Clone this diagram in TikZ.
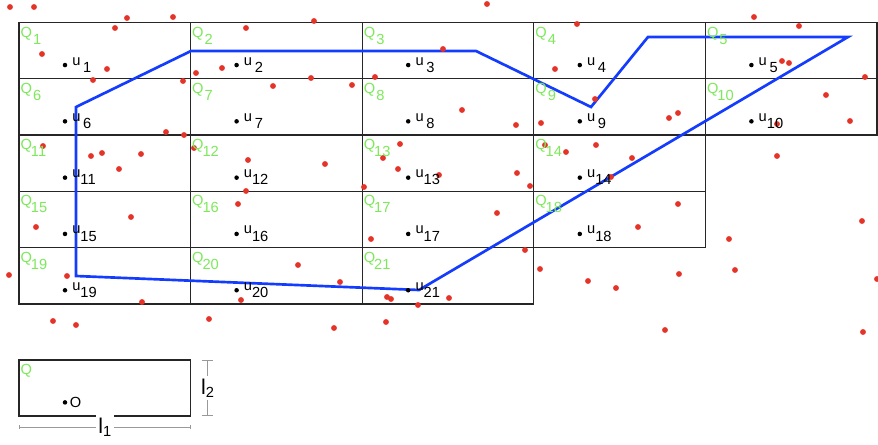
\documentclass[tikz,border=0pt]{standalone}
\usepackage{fontspec}
\setmainfont{Liberation Sans}
\usepackage{xcolor}
\usepackage{tikz}
\usetikzlibrary{arrows.meta}
\definecolor{qgreen}{RGB}{125,232,90}
\definecolor{routeblue}{RGB}{20,60,255}
\definecolor{samplered}{RGB}{228,52,40}
\newcommand\lowsub[1]{\raisebox{-5.3pt}{#1}}
\newcommand\dimsub[1]{\raisebox{-2pt}{\fontsize{11}{13}\selectfont#1}}

\begin{document}
\begin{tikzpicture}[
      x=0.75pt,
      y=-0.75pt,
      cell/.style={
        draw=black!85,
        line width=1pt,
        minimum width=128.7pt,
        minimum height=42.2pt,
        inner sep=0pt,
        outer sep=0pt
      },
      qlabel/.style={text=qgreen, font=\fontsize{11}{13}\selectfont,
        inner xsep=1pt, inner ysep=3pt, anchor=north west},
      udot/.style={circle, fill=black, inner sep=0pt, minimum size=3.4pt},
      ulabel/.style={font=\fontsize{11}{13}\selectfont, inner sep=0pt, anchor=base west},
      route/.style={draw=routeblue, line width=2pt, line join=miter},
      dimline/.style={draw=black!40, line width=0.6pt},
      dimlabel/.style={fill=white, inner sep=2pt, font=\fontsize{16}{18}\selectfont}
    ]
    \useasboundingbox (0,0) rectangle (878,445);

    \foreach \r/\n/\s in {0/5/1, 1/5/6, 2/4/11, 3/4/15, 4/3/19}
      \foreach \c in {1,...,\n} {
        \pgfmathtruncatemacro\i{\s+\c-1}
        \node[cell] (q\i) at ({19+171.6*(\c-0.5)},{22.5+56.3*(\r+0.5)}) {};
      }
    \node[cell] (q0) at (104.8,388) {};

    \coordinate (r1) at (191,51);
    \coordinate (r2) at (476,51);
    \coordinate (r3) at (591,107);
    \coordinate (r4) at (648,37);
    \coordinate (r5) at (848,37);
    \coordinate (r6) at (419,290);
    \coordinate (r7) at (76,276);
    \coordinate (r8) at (76,107);
    \draw[route] (r1) -- (r2) -- (r3) -- (r4) -- (r5) -- (r6) -- (r7) -- (r8) -- cycle;

    \foreach \px/\py in {10/7, 34/7, 127/18, 173/17, 115/28, 246/28, 42/54, 107/69,
        93/80, 183/81, 196/73, 222/68, 273/86, 166/132, 184/135, 43/146, 194/148,
        314/21, 487/4, 443/49, 311/78, 352/85, 375/77, 462/110, 516/125, 541/123,
        555/69, 577/24, 595/99, 400/144, 545/145, 596/145,
        754/17, 799/26, 782/61, 789/63, 865/77, 826/95, 669/118, 678/113, 777/124, 850/121,
        91/156, 102/153, 141/154, 119/169, 248/160, 246/191, 238/204, 131/217, 36/227,
        9/275, 67/276, 298/265, 142/302, 241/300,
        325/164, 383/158, 398/169, 439/175, 364/187, 517/173, 530/186, 566/152, 497/213,
        371/239, 525/250, 540/269, 588/281, 340/282, 387/297, 391/299, 449/298, 418/305,
        632/158, 777/156, 611/177, 678/204, 638/227, 729/239, 862/221, 877/279, 679/274,
        735/270, 616/288, 665/330, 863/332,
        53/321, 76/325, 209/319, 334/328, 386/322}
      \fill[samplered] (\px,\py) circle[radius=2.2pt];

    \foreach \i in {1,...,21} {
      \node[qlabel] (ql\i) at (q\i.north west)
        {Q\kern\ifnum\i<10 0.8pt\else -0.8pt\fi\lowsub{\i}};
      \node[udot] (u\i) at ([xshift=34.5pt,yshift=-31.9pt]q\i.north west) {};
      \node[ulabel] (ul\i) at ([xshift=5.3pt]u\i.center)
        {u\kern\ifnum\i<10 2pt\else 0pt\fi\lowsub{\i}};
    }

    \node[qlabel] (ql0) at (q0.north west) {Q};
    \node[udot] (o) at ([xshift=34.5pt,yshift=-31.9pt]q0.north west) {};
    \node[ulabel, anchor=west] (ol) at ([xshift=3.5pt]o.center) {O};

    \coordinate (l1a) at ([yshift=-8.25pt]q0.south west);
    \coordinate (l1b) at ([yshift=-8.25pt]q0.south east);
    \coordinate (l2a) at ([xshift=12.75pt]q0.north east);
    \coordinate (l2b) at ([xshift=12.75pt]q0.south east);
    \draw[dimline, {Bar[width=3.5pt]}-{Bar[width=3.5pt]}] (l1a) -- node[dimlabel] (l1) {l\dimsub{1}} (l1b);
    \draw[dimline, {Bar[width=8pt]}-{Bar[width=8pt]}] (l2a) -- node[dimlabel] (l2) {l\dimsub{2}} (l2b);
  \end{tikzpicture}
\end{document}
